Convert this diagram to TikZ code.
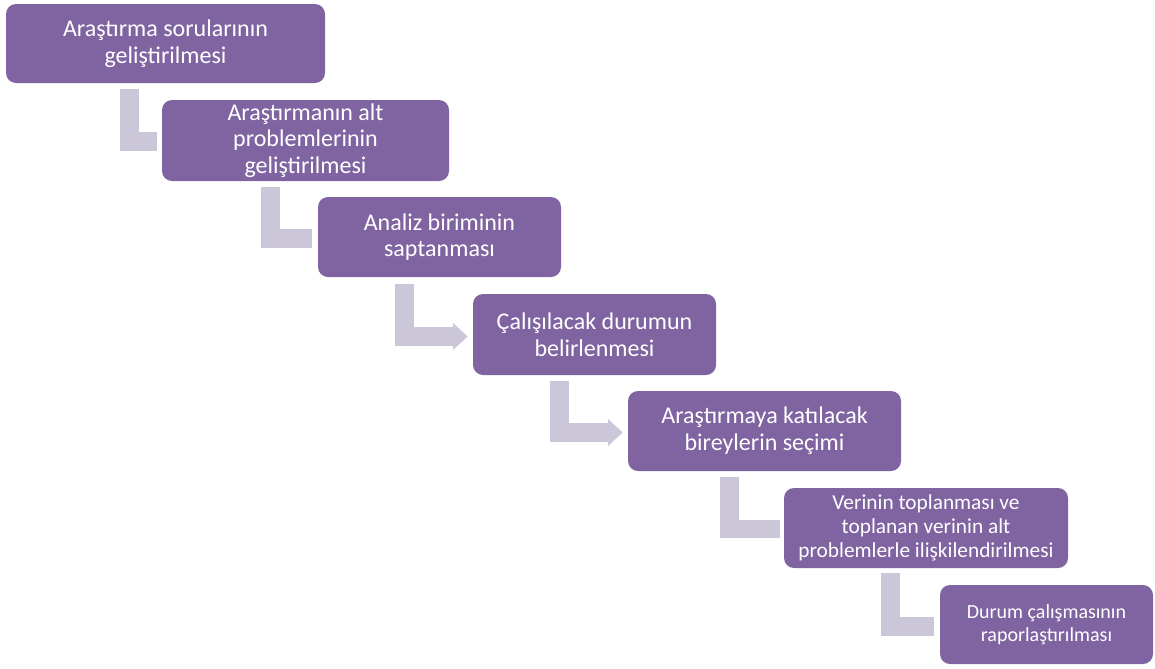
\documentclass[tikz,border=0pt]{standalone}
\usepackage{fontspec}
\setmainfont{Carlito}
\usetikzlibrary{arrows.meta,calc,backgrounds}
\definecolor{stagepurple}{RGB}{128,100,162}
\definecolor{bendgrey}{RGB}{204,198,217}

\begin{document}
\begin{tikzpicture}[x=0.75pt, y=-0.75pt,
  stage/.style={rectangle, rounded corners=7.5pt, fill=stagepurple, text=white, align=center, inner sep=2pt, font=\fontsize{18}{20}\selectfont},
  elbow/.style={draw=bendgrey, line width=13.9pt, line join=miter},
  elbowarrow/.style={elbow, -{Triangle[length=11pt, width=19.5pt]}}]
  \useasboundingbox (0,0) rectangle (1155,668);
  \node [stage, minimum width=239.25pt, minimum height=59.25pt] (1) at (165.5,43.5) {Araştırma sorularının\\geliştirilmesi};
  \node [stage, minimum width=215.25pt, minimum height=60.75pt] (2) at (305.5,140.5) {Araştırmanın alt\\problemlerinin\\geliştirilmesi};
  \node [stage, minimum width=182.25pt, minimum height=60pt] (3) at (439.5,237) {Analiz biriminin\\saptanması};
  \node [stage, minimum width=182.25pt, minimum height=60.75pt] (4) at (594.5,334.5) {Çalışılacak durumun\\belirlenmesi};
  \node [stage, minimum width=204.75pt, minimum height=60pt] (5) at (764.5,431) {Araştırmaya katılacak\\bireylerin seçimi};
  \node [stage, minimum width=213pt, minimum height=60pt, font=\fontsize{16}{18}\selectfont] (6) at (926,528) {Verinin toplanması ve\\toplanan verinin alt\\problemlerle ilişkilendirilmesi};
  \node [stage, minimum width=159.75pt, minimum height=59.25pt, font=\fontsize{15}{17.5}\selectfont] (7) at (1046.5,624.5) {Durum çalışmasının\\raporlaştırılması};
  \begin{scope}[on background layer]
    \draw [elbow] ($(1.south west)+(124,6)$) |- ($(2.west)+(-5,1)$);
    \draw [elbow] ($(2.south west)+(109,6)$) |- ($(3.west)+(-6,1.5)$);
    \draw [elbowarrow] ($(3.south west)+(86.5,7)$) |- ($(4.west)+(-5,2)$);
    \draw [elbowarrow] ($(4.south west)+(86.5,6)$) |- ($(5.west)+(-5,1.5)$);
    \draw [elbow] ($(5.south west)+(102,6)$) |- ($(6.west)+(-4,1)$);
    \draw [elbow] ($(6.south west)+(107,5)$) |- ($(7.west)+(-6,2)$);
  \end{scope}
\end{tikzpicture}
\end{document}
